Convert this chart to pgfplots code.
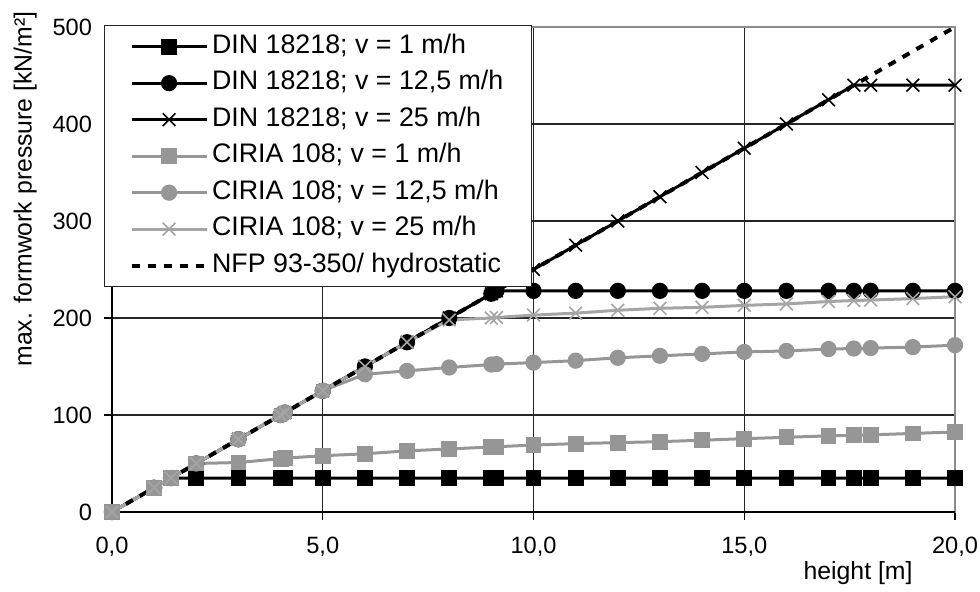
\documentclass[border=0pt]{standalone}
\usepackage{pgfplots}
\pgfplotsset{compat=1.18}
\usepackage{fontspec}
\setmainfont{Liberation Sans}
\definecolor{cgray}{RGB}{150,150,150}
\definecolor{cxgray}{RGB}{165,165,165}
\begin{document}
\begin{tikzpicture}
\begin{axis}[name=ax, scale only axis, width=421.5pt, height=242.5pt,
 xmin=0, xmax=20, ymin=0, ymax=500, clip=false,
 xtick={0,5,10,15,20}, xticklabels={{0,0},{5,0},{10,0},{15,0},{20,0}},
 ytick={0,100,200,300,400,500},
 tick pos=left, tick align=outside, major tick length=4pt,
 tick style={black, line width=0.6pt},
 grid=major, grid style={black!85, line width=0.6pt},
 axis line style={draw=black!45, line width=0.6pt},
 ticklabel style={font=\fontsize{11.8}{14}\selectfont},
 xticklabel style={yshift=-5pt},
 yticklabel style={xshift=-2.5pt},
 /pgf/number format/assume math mode=true,
 ylabel={max. formwork pressure [kN/m²]},
 ylabel style={at={(axis description cs:-0.103,0.666)}, anchor=center, font=\fontsize{12.4}{14}\selectfont},
 xlabel={height [m]},
 xlabel style={at={(axis description cs:0.958,0)}, anchor=north east, yshift=-21pt, font=\fontsize{12.4}{14}\selectfont},
 legend style={at={(axis description cs:-0.0095,1.004)}, anchor=north west, draw=black!85, line width=0.6pt, fill=white,
   inner xsep=12.5pt, inner ysep=3pt, row sep=3.25pt, font=\fontsize{13.4}{15}\selectfont,
   nodes={inner ysep=1.5pt, inner xsep=1.75pt, text height=9.2pt, text depth=2.8pt}},
 legend cell align=left,
 legend image code/.code={\draw[mark repeat=2,mark phase=2] plot coordinates {(0pt,0pt) (18.75pt,0pt) (37.5pt,0pt)};},
]
\draw[black, line width=0.6pt] (rel axis cs:0,1) -- (rel axis cs:0,0) -- (rel axis cs:1,0);
% DIN 18218 v=1
\addplot[black, line width=1.5pt, mark=square*, mark size=3.2pt, mark options={solid, fill=black}] coordinates {
(0,0) (1,25) (1.4,35) (2,35) (3,35) (4,35) (4.1,35) (5,35) (6,35) (7,35) (8,35) (9,35) (9.12,35) (10,35) (11,35) (12,35) (13,35) (14,35) (15,35) (16,35) (17,35) (17.6,35) (18,35) (19,35) (20,35)};
\addlegendentry{DIN 18218; v = 1 m/h}
% DIN 18218 v=12.5
\addplot[black, line width=1.5pt, mark=*, mark size=3.3pt, mark options={solid, fill=black}] coordinates {
(0,0) (1,25) (1.4,35) (2,50) (3,75) (4,100) (4.1,102.5) (5,125) (6,150) (7,175) (8,200) (9,225) (9.12,228) (10,228) (11,228) (12,228) (13,228) (14,228) (15,228) (16,228) (17,228) (17.6,228) (18,228) (19,228) (20,228)};
\addlegendentry{DIN 18218; v = 12,5 m/h}
% DIN 18218 v=25
\addplot[black, line width=1.5pt, mark=x, mark size=4.5pt, mark options={solid, line width=0.8pt}] coordinates {
(0,0) (1,25) (1.4,35) (2,50) (3,75) (4,100) (4.1,102.5) (5,125) (6,150) (7,175) (8,200) (9,225) (9.12,228) (10,250) (11,275) (12,300) (13,325) (14,350) (15,375) (16,400) (17,425) (17.6,440) (18,440) (19,440) (20,440)};
\addlegendentry{DIN 18218; v = 25 m/h}
% CIRIA 108 v=1
\addplot[cgray, line width=1.5pt, mark=square*, mark size=3.2pt, mark options={solid, fill=cgray}] coordinates {
(0,0) (1,25) (1.4,35) (2,50) (3,51) (4,55) (4.1,55.5) (5,58) (6,60) (7,63) (8,65) (9,67) (9.12,67.3) (10,69) (11,70.5) (12,71.5) (13,72.5) (14,74) (15,75.6) (16,77) (17,78.5) (17.6,79) (18,79.5) (19,81) (20,82.5)};
\addlegendentry{CIRIA 108; v = 1 m/h}
% CIRIA 108 v=12.5
\addplot[cgray, line width=1.5pt, mark=*, mark size=3.3pt, mark options={solid, fill=cgray}] coordinates {
(0,0) (1,25) (1.4,35) (2,50) (3,75) (4,100) (4.1,102.5) (5,125) (6,142) (7,145.5) (8,149) (9,152) (9.12,152.5) (10,154) (11,156) (12,159) (13,161) (14,163) (15,165) (16,166) (17,168) (17.6,168.5) (18,169) (19,170) (20,172)};
\addlegendentry{CIRIA 108; v = 12,5 m/h}
% CIRIA 108 v=25
\addplot[cxgray, line width=1.5pt, mark=x, mark size=4.5pt, mark options={solid, line width=0.8pt}] coordinates {
(0,0) (1,25) (1.4,35) (2,50) (3,75) (4,100) (4.1,102.5) (5,125) (6,150) (7,175) (8,198) (9,200) (9.12,200.5) (10,203) (11,205) (12,208) (13,210) (14,211) (15,213) (16,214.5) (17,217) (17.6,218) (18,218.5) (19,220) (20,222)};
\addlegendentry{CIRIA 108; v = 25 m/h}
% NFP hydrostatic
\addplot[black, line width=2pt, dash pattern=on 4pt off 4pt] coordinates {
(0,0) (1,25) (2,50) (4,100) (6,150) (8,200) (10,250) (12,300) (14,350) (16,400) (18,450) (20,500)};
\addlegendentry{NFP 93-350/ hydrostatic}
\end{axis}
\pgfresetboundingbox
\path[use as bounding box] ([shift={(-56pt,-40pt)}]ax.south west) rectangle ([shift={(12.5pt,13.5pt)}]ax.north east);
\end{tikzpicture}
\end{document}
